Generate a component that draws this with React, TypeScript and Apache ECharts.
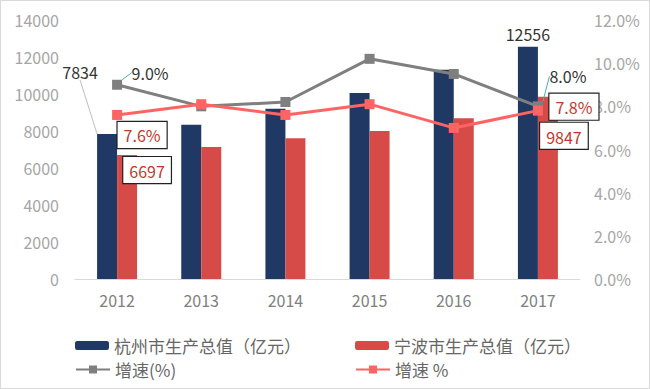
import React, { useEffect, useRef } from "react";
import * as echarts from "echarts";

const years = ["2012", "2013", "2014", "2015", "2016", "2017"];
const hangzhouGdp = [7834, 8343, 9206, 10050, 11313, 12556];
const ningboGdp = [6697, 7129, 7603, 8004, 8686, 9847];
const hangzhouGrowth = [9.0, 8.0, 8.2, 10.2, 9.5, 8.0];
const ningboGrowth = [7.6, 8.1, 7.6, 8.1, 7.0, 7.8];
const leftTicks = { min: 0, max: 14000, interval: 2000 };
const rightTicks = { min: 0, max: 12, interval: 2 };

const NAME_HZ = "杭州市生产总值（亿元）";
const NAME_NB = "宁波市生产总值（亿元）";
const NAME_HZG = "增速(%)";
const NAME_NBG = "增速 %";

const FONT = "'Noto Sans CJK SC', 'Noto Sans', sans-serif";

const boxLabel = {
  show: true,
  color: "#C0392B",
  fontSize: 16,
  fontFamily: FONT,
  backgroundColor: "#fff",
  borderColor: "#222",
  borderWidth: 1.2,
  padding: [6, 6, 4, 6],
};

export default function App() {
  const ref = useRef<HTMLDivElement>(null);
  useEffect(() => {
    if (!ref.current) return;
    const chart = echarts.init(ref.current, undefined, { renderer: "svg" });
    const legendCommon = {
      itemWidth: 34,
      itemHeight: 9,
      padding: 0,
      textStyle: { fontSize: 17, color: "#666", fontFamily: FONT },
    };
    chart.setOption({
      animation: false,
      textStyle: { fontFamily: FONT },
      graphic: [
        {
          type: "rect",
          shape: { x: 0.5, y: 0.5, width: 649, height: 388 },
          style: { fill: "none", stroke: "#d9d9d9", lineWidth: 1 },
          silent: true,
        },
      ],
      grid: { left: 75, right: 70, top: 20, bottom: 110 },
      legend: [
        { ...legendCommon, data: [NAME_HZ], left: 75, top: 337 },
        { ...legendCommon, data: [NAME_NB], left: 355, top: 337 },
        { ...legendCommon, data: [NAME_HZG], left: 75, top: 361, itemHeight: 10 },
        { ...legendCommon, data: [NAME_NBG], left: 355, top: 361, itemHeight: 10 },
      ],
      xAxis: {
        type: "category",
        data: years,
        axisLine: { lineStyle: { color: "#d9d9d9", width: 1 } },
        axisTick: { show: false },
        axisLabel: { color: "#808080", fontSize: 16, margin: 13, fontFamily: FONT },
      },
      yAxis: [
        {
          type: "value",
          ...leftTicks,
          splitLine: { show: false },
          axisLine: { show: false },
          axisTick: { show: false },
          axisLabel: {
            color: "#a6a6a6",
            fontSize: 16,
            margin: 16,
            fontFamily: FONT,
            formatter: (v: number) => String(v),
          },
        },
        {
          type: "value",
          ...rightTicks,
          splitLine: { show: false },
          axisLine: { show: false },
          axisTick: { show: false },
          axisLabel: {
            color: "#a6a6a6",
            fontSize: 16,
            margin: 14,
            fontFamily: FONT,
            formatter: (v: number) => v.toFixed(1) + "%",
          },
        },
      ],
      series: [
        {
          name: NAME_HZ,
          type: "bar",
          barWidth: 20,
          barGap: "0%",
          itemStyle: { color: "#1F3864" },
          data: hangzhouGdp.map((v, i) => {
            if (i === 0)
              return {
                value: v,
                label: { show: true, position: "top", color: "#333", fontSize: 16 },
                labelLine: { show: true, lineStyle: { color: "#bfbfbf", width: 1 } },
              };
            if (i === 5)
              return {
                value: v,
                label: { show: true, position: "top", color: "#333", fontSize: 16, offset: [0, -3] },
              };
            return v;
          }),
          labelLayout: (p: any) => (p.dataIndex === 0 ? { dx: -27, dy: -49 } : {}),
        },
        {
          name: NAME_NB,
          type: "bar",
          barWidth: 20,
          barGap: "0%",
          itemStyle: { color: "#D64B48" },
          data: ningboGdp.map((v, i) => {
            if (i === 0)
              return { value: v, label: { ...boxLabel, position: "top", offset: [20, 33] } };
            if (i === 5)
              return { value: v, label: { ...boxLabel, position: "top", offset: [16, 57] } };
            return v;
          }),
          z: 2,
        },
        {
          name: NAME_HZG,
          type: "line",
          yAxisIndex: 1,
          symbol: "rect",
          symbolSize: 10,
          lineStyle: { color: "#7F7F7F", width: 3 },
          itemStyle: { color: "#7F7F7F" },
          data: hangzhouGrowth.map((v, i) => {
            if (i === 0 || i === 5)
              return {
                value: v,
                label: {
                  show: true,
                  position: "top",
                  color: "#333",
                  fontSize: 16,
                  formatter: (p: any) => Number(p.value).toFixed(1) + "%",
                },
                labelLine: { show: true, lineStyle: { color: "#4BACC6", width: 1 } },
              };
            return v;
          }),
          labelLayout: (p: any) =>
            p.dataIndex === 0 ? { dx: 33, dy: 6 } : p.dataIndex === 5 ? { dx: 30, dy: -12 } : {},
          z: 3,
        },
        {
          name: NAME_NBG,
          type: "line",
          yAxisIndex: 1,
          symbol: "rect",
          symbolSize: 10,
          lineStyle: { color: "#FF6464", width: 3 },
          itemStyle: { color: "#FF6464" },
          data: ningboGrowth.map((v, i) => {
            if (i === 0)
              return {
                value: v,
                label: {
                  ...boxLabel,
                  position: "inside",
                  offset: [25, 20],
                  formatter: (p: any) => Number(p.value).toFixed(1) + "%",
                },
              };
            if (i === 5)
              return {
                value: v,
                label: {
                  ...boxLabel,
                  position: "inside",
                  offset: [36, -4],
                  formatter: (p: any) => Number(p.value).toFixed(1) + "%",
                },
              };
            return v;
          }),
          z: 4,
        },
      ],
    });
    return () => chart.dispose();
  }, []);
  return (
    <div
      ref={ref}
      style={{ position: "fixed", left: 0, top: 0, width: 650, height: 389, background: "#fff" }}
    />
  );
}
